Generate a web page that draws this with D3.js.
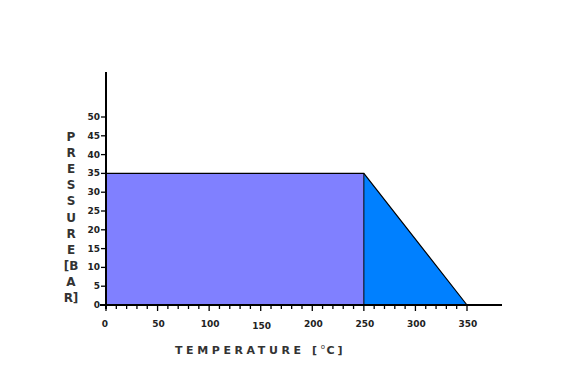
<!DOCTYPE html>
<html><head><meta charset="utf-8">
<script src="https://cdn.jsdelivr.net/npm/d3@7"></script>
<style>body{margin:0;background:#fff}svg{display:block}</style>
</head><body>
<svg id="c" width="564" height="374"></svg>
<script>
const xTicks = [0, 50, 100, 150, 200, 250, 300, 350];
const yTicks = [0, 5, 10, 15, 20, 25, 30, 35, 40, 45, 50];
const plateauTemps = [0, 250];
const plateauPressure = [35, 35];
const rampTemps = [250, 250, 350];
const rampPressure = [0, 35, 0];
const yTitleLetters = ["P","R","E","S","S","U","R","E","[B","A","R]"];
const xTitleMain = "TEMPERATURE [";
const xTitleDeg = "o";
const xTitleEnd = "C]";

const svg = d3.select("#c");
const x = d3.scaleLinear().domain([0, 350]).range([106, 467]);
const y = d3.scaleLinear().domain([0, 50]).range([305, 117]);

const rectPts = [[plateauTemps[0], 0], [plateauTemps[0], plateauPressure[0]], [plateauTemps[1], plateauPressure[1]], [plateauTemps[1], 0]];
svg.append("path")
  .attr("d", d3.line().x(d => x(d[0])).y(d => y(d[1]))(rectPts) + "Z")
  .attr("fill", "#8080ff").attr("stroke", "none");
const triPts = rampTemps.map((t, i) => [t, rampPressure[i]]);
svg.append("path")
  .attr("d", d3.line().x(d => x(d[0])).y(d => y(d[1]))(triPts) + "Z")
  .attr("fill", "#0080ff").attr("stroke", "none");
svg.append("path")
  .attr("d", d3.line().x(d => x(d[0])).y(d => y(d[1]))([[0, 35], [250, 35], [350, 0]]))
  .attr("fill", "none").attr("stroke", "#000").attr("stroke-width", 1.2);
svg.append("line")
  .attr("x1", x(250)).attr("x2", x(250)).attr("y1", y(35)).attr("y2", y(0))
  .attr("stroke", "#000").attr("stroke-width", 1);

const minor = d3.range(0, 351, 10);
svg.append("line").attr("x1", 100).attr("x2", 502).attr("y1", 305).attr("y2", 305)
  .attr("stroke", "#000").attr("stroke-width", 2);
svg.selectAll(".xm").data(minor).enter().append("line")
  .attr("x1", d => x(d)).attr("x2", d => x(d))
  .attr("y1", 305).attr("y2", d => d % 50 === 0 ? 311 : 309)
  .attr("stroke", "#000").attr("stroke-width", 1.3);
svg.selectAll(".xl").data(xTicks).enter().append("text")
  .attr("x", d => x(d) + (d === 0 ? -1 : 1)).attr("y", d => d === 150 ? 329 : 327)
  .attr("text-anchor", "middle")
  .attr("font-family", "DejaVu Sans, Verdana, sans-serif").attr("font-weight", "bold")
  .attr("font-size", 9).attr("fill", "#222")
  .text(d => d);

svg.append("line").attr("x1", 106).attr("x2", 106).attr("y1", 72).attr("y2", 309)
  .attr("stroke", "#000").attr("stroke-width", 2);
svg.selectAll(".yt").data(yTicks).enter().append("line")
  .attr("x1", 101).attr("x2", 106).attr("y1", d => y(d)).attr("y2", d => y(d))
  .attr("stroke", "#000").attr("stroke-width", 1.3);
svg.selectAll(".yl").data(yTicks).enter().append("text")
  .attr("x", 100).attr("y", d => y(d) + 3)
  .attr("text-anchor", "end")
  .attr("font-family", "DejaVu Sans, Verdana, sans-serif").attr("font-weight", "bold")
  .attr("font-size", 9).attr("fill", "#222")
  .text(d => d);

svg.selectAll(".ytt").data(yTitleLetters).enter().append("text")
  .attr("x", 71).attr("y", (d, i) => 141 + i * 16.1)
  .attr("text-anchor", "middle")
  .attr("font-family", "DejaVu Sans, Verdana, sans-serif").attr("font-weight", "bold")
  .attr("font-size", 12).attr("fill", "#333")
  .text(d => d);

const xt = svg.append("text")
  .attr("x", 175).attr("y", 354)
  .attr("font-family", "DejaVu Sans, Verdana, sans-serif").attr("font-weight", "bold")
  .attr("font-size", 11).attr("fill", "#333").attr("letter-spacing", 3.6);
xt.append("tspan").text(xTitleMain);
xt.append("tspan").attr("font-size", 7).attr("font-weight", "normal").attr("dy", -5).attr("letter-spacing", 1.5).text(xTitleDeg);
xt.append("tspan").attr("dy", 5).attr("letter-spacing", 3).text(xTitleEnd);
</script>
</body></html>
